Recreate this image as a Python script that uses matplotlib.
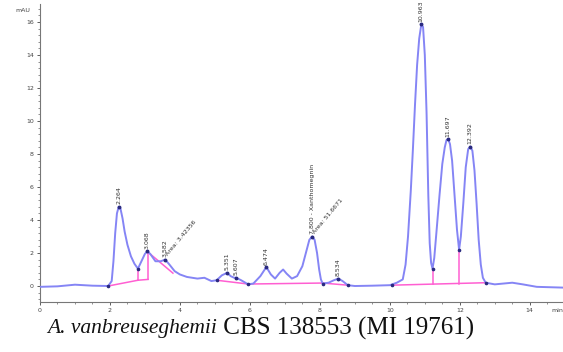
import matplotlib
matplotlib.use("Agg")
import matplotlib.pyplot as plt
from matplotlib.ticker import MultipleLocator

# chromatogram trace (time in min, signal in mAU)
trace_t = [0.0, 0.5, 1.0, 1.5, 1.95, 2.05, 2.1, 2.15, 2.2, 2.25, 2.3, 2.36, 2.42,
           2.5, 2.6, 2.7, 2.8, 2.9, 3.0, 3.07, 3.15, 3.3, 3.45, 3.58, 3.7, 3.85,
           4.0, 4.2, 4.5, 4.7, 4.9, 5.05, 5.2, 5.35, 5.45, 5.55, 5.61, 5.75,
           5.95, 6.1, 6.3, 6.47, 6.6, 6.72, 6.85, 6.95, 7.05, 7.2, 7.35, 7.5,
           7.6, 7.7, 7.78, 7.85, 7.92, 7.98, 8.03, 8.08, 8.25, 8.4, 8.53, 8.65,
           8.8, 9.0, 9.5, 10.0, 10.2, 10.37, 10.45, 10.52, 10.6, 10.66, 10.72,
           10.78, 10.84, 10.9, 10.95, 11.0, 11.05, 11.1, 11.14, 11.18, 11.22,
           11.27, 11.33, 11.42, 11.5, 11.57, 11.62, 11.67, 11.72, 11.78, 11.85,
           11.92, 11.98, 12.03, 12.1, 12.17, 12.24, 12.3, 12.36, 12.42, 12.48,
           12.54, 12.6, 12.66, 12.74, 13.0, 13.5, 13.8, 14.2, 15.0]
trace_y = [-0.05, -0.02, 0.08, 0.02, 0.0, 0.3, 1.5, 3.2, 4.4, 4.8, 4.7, 4.1, 3.3,
           2.5, 1.8, 1.35, 1.05, 1.5, 1.95, 2.1, 1.95, 1.5, 1.5, 1.6, 1.3, 0.9,
           0.7, 0.55, 0.45, 0.5, 0.3, 0.35, 0.65, 0.8, 0.6, 0.5, 0.5, 0.35,
           0.1, 0.15, 0.6, 1.15, 0.7, 0.45, 0.8, 1.0, 0.75, 0.45, 0.6, 1.2,
           2.0, 2.8, 3.0, 2.8, 2.0, 1.0, 0.4, 0.15, 0.2, 0.35, 0.45, 0.3,
           0.05, 0.0, 0.02, 0.05, 0.2, 0.4, 1.3, 3.0, 5.8, 8.3, 11.0,
           13.4, 15.0, 15.85, 15.7, 14.0, 10.5, 5.5, 2.6, 1.4, 1.05,
           1.7, 3.2, 5.5, 7.4, 8.4, 8.85, 8.9, 8.6, 7.6, 5.5,
           3.4, 2.2, 3.0, 5.0, 7.2, 8.3, 8.45, 8.2, 7.0, 5.0,
           2.8, 1.3, 0.5, 0.2, 0.1, 0.2, 0.1, -0.05, -0.1]

# integration baselines drawn by the software
base_segments = [
    ([1.95, 2.8], [0.0, 0.35]),
    ([2.8, 2.8], [0.35, 1.05]),
    ([2.8, 3.09], [0.35, 0.4]),
    ([3.09, 3.09], [0.4, 2.05]),
    ([3.09, 3.8], [2.05, 0.78]),
    ([5.05, 5.95], [0.35, 0.12]),
    ([5.95, 8.08], [0.12, 0.18]),
    ([8.08, 8.8], [0.18, 0.05]),
    ([10.05, 12.74], [0.05, 0.2]),
    ([11.22, 11.22], [0.1, 1.05]),
    ([11.98, 11.98], [0.14, 2.2]),
]

# labelled peaks: retention time, apex height, label
peak_t = [2.25, 3.07, 3.58, 5.35, 5.61, 6.47, 7.78, 8.53, 10.9, 11.67, 12.3]
peak_y = [4.8, 2.1, 1.6, 0.8, 0.5, 1.15, 3.0, 0.45, 15.85, 8.9, 8.45]
peak_labels = ["2.264", "3.068", "3.582", "5.351", "5.607", "6.474",
               "7.800 - Xanthomegnin", "8.534", "10.963", "11.697", "12.392"]

# area annotations
area_t = [3.68, 7.88]
area_y = [1.75, 3.1]
area_labels = ["Area: 3.42356", "Area: 51.6671"]

valley_t = [1.95, 2.8, 5.05, 5.95, 8.08, 8.8, 10.05, 11.22, 11.98, 12.74]
valley_y = [0.0, 1.05, 0.35, 0.1, 0.15, 0.05, 0.05, 1.05, 2.2, 0.2]

fig = plt.figure(figsize=(5.63, 3.52), dpi=100)
ax = fig.add_axes([0.071, 0.142, 0.929, 0.847])

ax.plot(trace_t, trace_y, color="#8585f5", lw=1.4, zorder=3)
for xs, ys in base_segments:
    ax.plot(xs, ys, color="#ff5fd2", lw=1.1, zorder=2)
ax.plot(peak_t, peak_y, ls="none", marker="o", ms=1.8, color="#2a2a80", zorder=4)
ax.plot(valley_t, valley_y, ls="none", marker="o", ms=1.6, color="#2a2a80", zorder=4)

for t, y, lab in zip(peak_t, peak_y, peak_labels):
    ax.text(t, y + 0.15, lab, rotation=90, ha="center", va="bottom",
            fontsize=4.5, color="#333333", clip_on=False)
for t, y, lab in zip(area_t, area_y, area_labels):
    ax.text(t, y, lab, rotation=50, rotation_mode="anchor", ha="left", va="bottom",
            fontsize=4.5, color="#333333")

ax.set_xlim(0, 14.95)
ax.set_ylim(-0.97, 17.1)
ax.xaxis.set_major_locator(MultipleLocator(2))
ax.xaxis.set_minor_locator(MultipleLocator(0.5))
ax.yaxis.set_major_locator(MultipleLocator(2))
ax.yaxis.set_minor_locator(MultipleLocator(0.4))
ax.tick_params(labelsize=4.5, colors="#444444", length=2.5, width=0.6, pad=2)
ax.tick_params(which="minor", length=1.5, width=0.5, colors="#666666")
for side in ["top", "right"]:
    ax.spines[side].set_visible(False)
for side in ["left", "bottom"]:
    ax.spines[side].set_color("#777777")
    ax.spines[side].set_linewidth(0.8)

fig.text(15 / 563, 1 - 10 / 352, "mAU", fontsize=4.5, color="#444444", va="center")
fig.text(557 / 563, 1 - 311 / 352, "min", fontsize=4.5, color="#444444",
         ha="center", va="center")

# caption: italic species name followed by strain numbers
serif = ["Liberation Serif", "DejaVu Serif"]
cap1 = fig.text(47 / 563, 1 - 328 / 352, "A. vanbreuseghemii", family=serif,
                style="italic", fontsize=15.5, va="center", color="#111111")
fig.canvas.draw()
bb = cap1.get_window_extent(fig.canvas.get_renderer())
fig.text(bb.x1 / fig.bbox.width, 1 - 328 / 352, " CBS 138553 (MI 19761)",
         family=serif, fontsize=18, va="center", color="#111111")

fig.savefig("out.png", dpi=100)
